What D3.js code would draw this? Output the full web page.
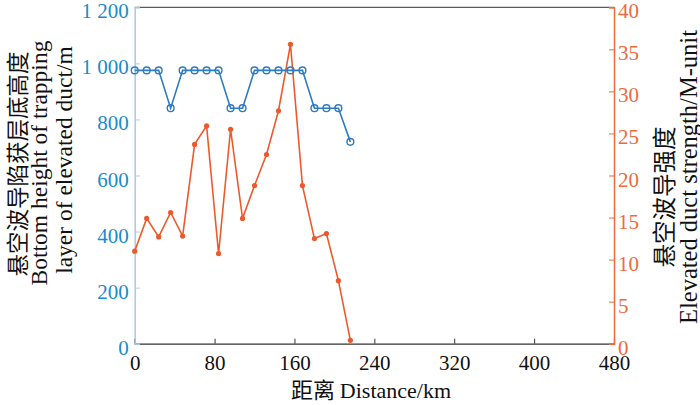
<!DOCTYPE html>
<html><head><meta charset="utf-8">
<script src="https://cdn.jsdelivr.net/npm/d3@7"></script>
<style>
body{margin:0;background:#fff;}
svg{display:block;}
text{font-family:"Liberation Serif","Times New Roman",serif;}
.cjk{font-family:"Noto Sans CJK SC","Noto Sans CJK JP",sans-serif;}
</style></head>
<body><svg id="c" width="700" height="405"></svg>
<script>
const distances = [0,12,24,36,48,60,72,84,96,108,120,132,144,156,168,180,192,204,216];
const bottomHeight = [975,975,975,840,975,975,975,975,840,840,975,975,975,975,975,840,840,840,720];
const ductStrength = [11.0,14.9,12.7,15.6,12.8,23.7,25.9,10.7,25.5,14.9,18.8,22.5,27.7,35.6,18.8,12.5,13.1,7.5,0.4];
const xTicks = [0,80,160,240,320,400,480];
const leftTicks = [0,200,400,600,800,1000,1200];
const leftTickLabels = ["0","200","400","600","800","1 000","1 200"];
const rightTicks = [0,5,10,15,20,25,30,35,40];

const svg = d3.select("#c");
const L=134.7, R=614, T=7.3, B=343.7;
const x = d3.scaleLinear().domain([0,480]).range([L,R]);
const yL = d3.scaleLinear().domain([0,1200]).range([B,T]);
const yR = d3.scaleLinear().domain([0,40]).range([B,T]);

const blueLine="#2f7bc0", blueAxis="#a9c9e6", blueText="#1a8bcb";
const orange="#ec5a2b", orangeAxis="#ee6a3c";
const gray="#333";

// top border
svg.append("line").attr("x1",L).attr("x2",R).attr("y1",T).attr("y2",T).attr("stroke",gray).attr("stroke-width",1);

// bottom axis
const xa = svg.append("g").attr("transform",`translate(0,${B})`)
  .call(d3.axisBottom(x).tickValues(xTicks).tickSize(-5).tickPadding(11).tickFormat(d3.format("d")));
xa.select(".domain").attr("stroke",gray).attr("stroke-width",1.2);
xa.selectAll(".tick line").attr("stroke",gray);
xa.selectAll("text").attr("font-size",21).attr("fill","#111").attr("font-family","Liberation Serif");

// left axis
const la = svg.append("g").attr("transform",`translate(${L},0)`)
  .call(d3.axisLeft(yL).tickValues(leftTicks).tickSize(-5).tickPadding(6).tickFormat((d,i)=>leftTickLabels[i]));
la.select(".domain").attr("stroke",blueAxis).attr("stroke-width",1.5);
la.selectAll(".tick line").attr("stroke",blueAxis);
la.selectAll("text").attr("font-size",21).attr("fill",blueText).attr("font-family","Liberation Serif").attr("dy","0.5em");

// right axis
const ra = svg.append("g").attr("transform",`translate(${R},0)`)
  .call(d3.axisRight(yR).tickValues(rightTicks).tickSize(-5).tickPadding(4).tickFormat(d3.format("d")));
ra.select(".domain").attr("stroke",orangeAxis).attr("stroke-width",1.5);
ra.selectAll(".tick line").attr("stroke",orangeAxis);
ra.selectAll("text").attr("font-size",21).attr("fill",orangeAxis).attr("font-family","Liberation Serif").attr("dy","0.5em");

// orange series
const lineO = d3.line().x((d,i)=>x(distances[i])).y(d=>yR(d));
svg.append("path").datum(ductStrength).attr("d",lineO).attr("fill","none").attr("stroke",orange).attr("stroke-width",1.6);
svg.selectAll(".od").data(ductStrength).enter().append("circle")
  .attr("cx",(d,i)=>x(distances[i])).attr("cy",d=>yR(d)).attr("r",2.6).attr("fill",orange);

// blue series
const lineB = d3.line().x((d,i)=>x(distances[i])).y(d=>yL(d));
svg.append("path").datum(bottomHeight).attr("d",lineB).attr("fill","none").attr("stroke",blueLine).attr("stroke-width",1.6);
svg.selectAll(".bd").data(bottomHeight).enter().append("circle")
  .attr("cx",(d,i)=>x(distances[i])).attr("cy",d=>yL(d)).attr("r",3.4).attr("fill","none").attr("stroke",blueLine).attr("stroke-width",1.4);

// axis titles
const lt = (cx,cy,txt,cls,size)=>svg.append("text").attr("class",cls).attr("transform",`translate(${cx},${cy}) rotate(-90)`)
  .attr("text-anchor","middle").attr("dominant-baseline","central").attr("font-size",size).attr("fill","#111").text(txt);
lt(16,164,"悬空波导陷获层底高度","cjk",22.5);
lt(39,163,"Bottom height of trapping","",23.5);
lt(64,160,"layer of elevated duct/m","",23.5);
lt(663,197,"悬空波导强度","cjk",23.5);
lt(688,177,"Elevated duct strength/M-unit","",24.5);

// bottom title
const bt = svg.append("text").attr("x",371).attr("y",398).attr("text-anchor","middle").attr("font-size",22).attr("fill","#111");
bt.append("tspan").attr("class","cjk").text("距离 ");
bt.append("tspan").text("Distance/km");
</script></body></html>
